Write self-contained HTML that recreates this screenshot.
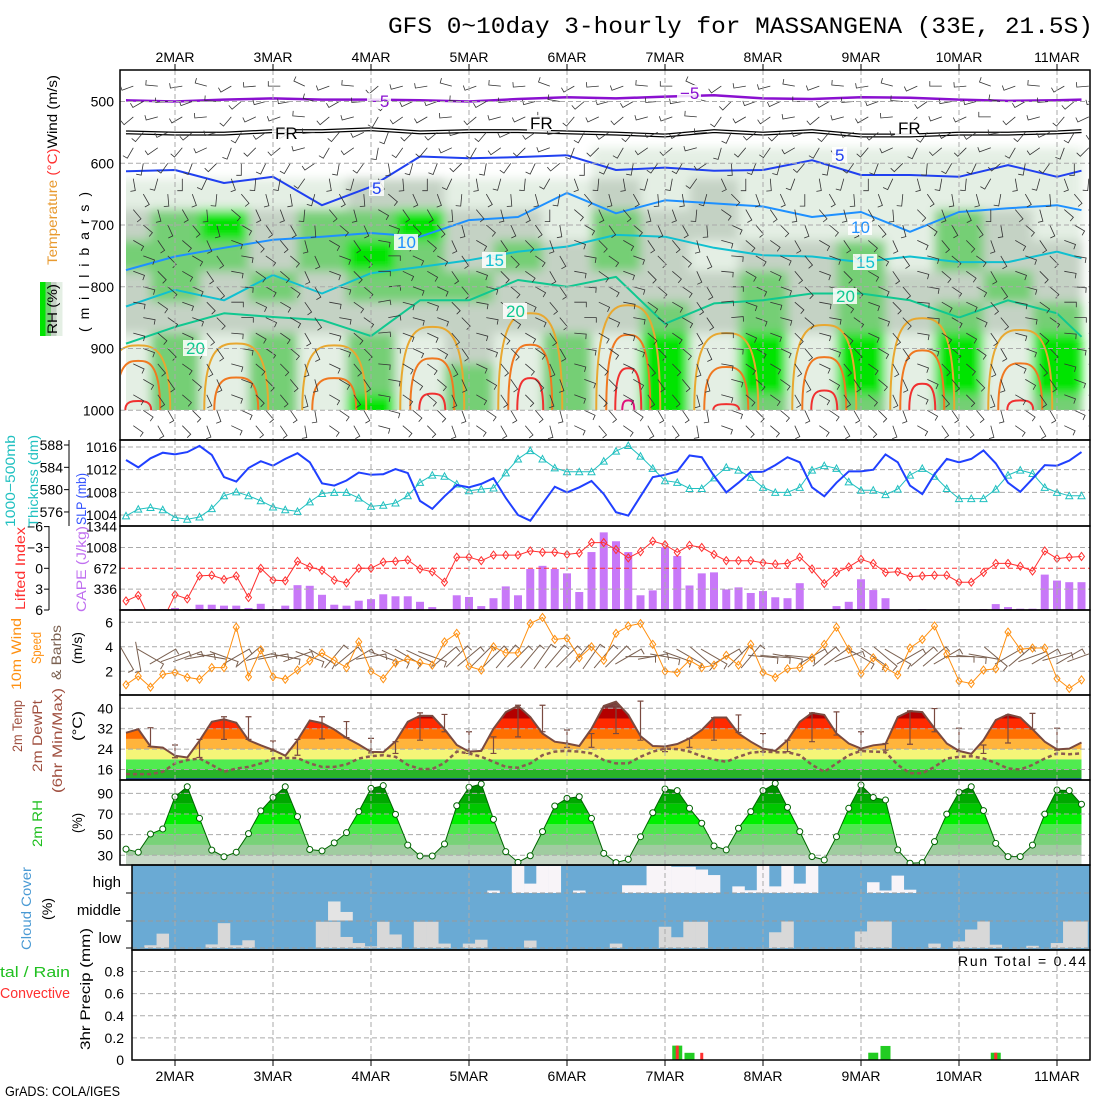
<!DOCTYPE html>
<html><head><meta charset="utf-8"><title>GFS meteogram MASSANGENA</title>
<style>
html,body{margin:0;padding:0;background:#fff;}
svg{display:block;font-family:"Liberation Sans",sans-serif;}
.t{font-size:14px;fill:#000;}
</style></head>
<body>
<svg id="chart" xmlns="http://www.w3.org/2000/svg" width="1100" height="1100" viewBox="0 0 1100 1100">
<rect x="0" y="0" width="1100" height="1100" fill="#fff"/>
<text x="388" y="33" font-family="Liberation Mono, monospace" font-size="23" textLength="705" lengthAdjust="spacingAndGlyphs">GFS 0~10day 3-hourly for MASSANGENA (33E, 21.5S)</text>
<g id="layer"></g>
<g class="t">
<text transform="translate(57,265) rotate(-90)" textLength="190" lengthAdjust="spacingAndGlyphs"><tspan fill="#e89a30">Temperature</tspan><tspan fill="#ff3030"> (°C)</tspan><tspan fill="#000">Wind (m/s)</tspan></text>
<text transform="translate(89,332) rotate(-90)" textLength="140" lengthAdjust="spacing">(millibars)</text>
<text transform="translate(15,527) rotate(-90)" fill="#20c0c0" textLength="92" lengthAdjust="spacingAndGlyphs">1000−500mb</text>
<text transform="translate(38,527) rotate(-90)" fill="#20c0c0" textLength="92" lengthAdjust="spacingAndGlyphs">Thicknss (dm)</text>
<text transform="translate(86,525) rotate(-90)" fill="#3050ff" textLength="52" lengthAdjust="spacingAndGlyphs">SLP (mb)</text>
<text transform="translate(25,610) rotate(-90)" fill="#ff3030" textLength="83" lengthAdjust="spacingAndGlyphs">Lifted Index</text>
<text transform="translate(86,612) rotate(-90)" fill="#c070f0" textLength="86" lengthAdjust="spacingAndGlyphs">CAPE (J/kg)</text>
<text transform="translate(21,690) rotate(-90)" fill="#ff9010" textLength="72" lengthAdjust="spacingAndGlyphs">10m Wind</text>
<text transform="translate(41,664) rotate(-90)" fill="#ff9010" textLength="32" lengthAdjust="spacingAndGlyphs">Speed</text>
<text transform="translate(61,680) rotate(-90)" fill="#7a6050" textLength="55" lengthAdjust="spacingAndGlyphs">&amp; Barbs</text>
<text transform="translate(82,664) rotate(-90)" textLength="32" lengthAdjust="spacingAndGlyphs">(m/s)</text>
<text transform="translate(22,752) rotate(-90)" fill="#a05040" textLength="52" lengthAdjust="spacingAndGlyphs">2m Temp</text>
<text transform="translate(42,772) rotate(-90)" fill="#a05040" textLength="72" lengthAdjust="spacingAndGlyphs">2m DewPt</text>
<text transform="translate(62,793) rotate(-90)" fill="#a05040" textLength="105" lengthAdjust="spacingAndGlyphs">(6hr Min/Max)</text>
<text transform="translate(82,741) rotate(-90)" textLength="30" lengthAdjust="spacingAndGlyphs">(°C)</text>
<text transform="translate(42,847) rotate(-90)" fill="#20c020" textLength="47" lengthAdjust="spacingAndGlyphs">2m RH</text>
<text transform="translate(82,833) rotate(-90)" textLength="20" lengthAdjust="spacingAndGlyphs">(%)</text>
<text transform="translate(31,950) rotate(-90)" fill="#4a9ad4" textLength="83" lengthAdjust="spacingAndGlyphs">Cloud Cover</text>
<text transform="translate(52,920) rotate(-90)" textLength="22" lengthAdjust="spacingAndGlyphs">(%)</text>
<text x="121" y="887" text-anchor="end" font-size="15">high</text>
<text x="121" y="915" text-anchor="end" font-size="15">middle</text>
<text x="121" y="943" text-anchor="end" font-size="15">low</text>
<text x="0" y="977" fill="#20c020" font-size="15" textLength="70" lengthAdjust="spacingAndGlyphs">tal / Rain</text>
<text x="0" y="998" fill="#ff3030" font-size="15" textLength="70" lengthAdjust="spacingAndGlyphs">Convective</text>
<text transform="translate(90,1050) rotate(-90)" textLength="122" lengthAdjust="spacingAndGlyphs">3hr Precip (mm)</text>
<text x="1086" y="966" text-anchor="end" textLength="128" lengthAdjust="spacing">Run Total = 0.44</text>
<text x="5" y="1096" textLength="115" lengthAdjust="spacingAndGlyphs">GrADS: COLA/IGES</text>
</g>
</svg>
<script>
const days = ['2MAR','3MAR','4MAR','5MAR','6MAR','7MAR','8MAR','9MAR','10MAR','11MAR'];
const slp = [1013.7,1012.4,1014,1015,1014.7,1015.1,1016.2,1014.6,1010.7,1009.9,1012.3,1013.5,1012.7,1013.9,1014.9,1013.3,1009.6,1009.2,1010.1,1011.5,1011.1,1011.2,1012.1,1011.4,1006.5,1005.1,1007.3,1009.3,1008.9,1009.5,1010.5,1007,1004,1003,1006,1009,1008,1008.9,1010,1007.7,1004.5,1003.9,1007.3,1010.7,1011.1,1011.7,1014.5,1014.2,1010.9,1008,1009.7,1011.6,1011.6,1012.8,1014.2,1013.3,1008.9,1007.3,1009.7,1011.7,1011.7,1012,1014.7,1013.3,1009.2,1007.7,1011.2,1013.9,1013.3,1013.9,1015.4,1013.1,1009.7,1008.1,1010.4,1012.8,1012.7,1013.6,1015.1];
const thick = [575.3,576.5,576.8,576.4,575,574.7,575.1,576.6,578.9,579.6,578.9,578,576.9,576.4,576.1,577.8,579.3,579.5,579.5,578.5,577,577.2,577.6,578.9,581.3,582.6,582.4,581,579.8,580.1,580.3,583,585.5,587,585.5,583.9,583.2,583.2,583.2,585.1,586.9,587.9,586,583.8,581.6,581.3,580.2,580.2,582.1,584,583.5,582.2,580.4,579.5,579.5,580.4,583.5,584.3,583.8,581.4,579.9,579.9,579.1,580.1,582.6,583.8,582.4,580.2,578.4,578.4,578.4,580.1,582.6,583.5,582.9,580.4,579.5,578.9,578.9];
const liftedIndex = [4.7,3.9,7.5,7.5,3.8,4.4,1.1,1.0,1.6,1.1,4.2,0,1.7,1.8,-1,-0.2,0.3,1.7,2.1,0,0,-0.9,-1,-1.2,0.1,0.5,2,-1.6,-1.6,-1.1,-1.9,-1.9,-1.9,-2.5,-2.3,-2.3,-2,-2.2,-3.7,-3.7,-2.7,-1.5,-2.4,-3.9,-3.4,-2.3,-3.3,-3,-2,-1.1,-1.1,-1.1,-0.8,-0.6,-0.7,-1.6,0.1,2.2,0.6,-0.2,-1.3,-0.7,0.6,0.5,1.2,1.1,1,1,2,2,0.6,-0.7,-0.7,-0.3,0.4,-2.5,-1.4,-1.6,-1.7];
const cape = [16,16,0,16,32,16,85,85,70,70,32,100,16,70,400,390,245,85,70,150,175,253,221,221,132,47,0,237,210,63,190,380,237,660,711,660,590,290,933,1250,1107,933,237,316,1012,870,395,590,606,332,364,274,305,205,190,432,0,0,63,132,495,321,190,0,0,16,0,0,0,0,16,95,47,21,21,570,474,448,448];
const windSpeed = [0.9,1.6,0.7,1.75,1.9,1.5,1.35,2.3,2.3,5.6,1.55,3.75,1.55,1.35,2.1,2.85,3.5,2.9,2.3,4.4,2.0,1.4,2.7,3.0,2.7,2.5,4.4,5.1,2.4,2.1,4,3.5,3.5,5.9,6.4,4.6,4.7,3.1,4,2.9,5.1,5.7,5.9,4.2,2.0,1.9,2.9,2.3,2.5,3.3,2.5,4.2,1.9,1.5,2.2,2.3,3.1,4.2,5.6,3.8,1.8,3.1,2.3,1.7,3.9,4.6,5.7,3.4,1.2,1.0,2.1,2.2,5.2,3.8,3.9,3.9,1.4,0.6,1.3];
const windDir = [150,170,120,60,70,70,80,100,110,60,50,75,80,100,70,110,120,40,50,60,80,110,115,120,115,110,50,45,50,45,45,40,45,40,35,40,45,40,35,40,45,60,90,80,100,110,120,130,120,60,45,40,95,95,100,95,60,50,55,70,120,125,130,120,60,50,50,60,90,95,100,130,60,50,70,60,75,60,70];
const temp2m = [30.4,31.8,25,24.6,21.4,20.7,27.3,34.7,35.7,34.3,27.5,25.5,23.7,21.4,27.5,35.2,34.2,31.7,28.4,25.8,22.9,22.8,27,34.7,37.1,37,31.8,25.6,23,23.3,32,38.5,40.9,36.6,30.1,26.9,26.2,25.2,32,40.9,42.6,37.4,29.1,25.2,25,26,28.2,31.5,36.4,36.4,30.1,26.9,24.2,23.3,27.5,34.7,38.2,37.4,30.1,26.2,24.2,25.5,26,36.6,38.9,38.5,32.2,26.2,23.3,22.1,27.5,35.4,37.6,36.4,31.8,26.9,23.9,24.2,26.6];
const dew2m = [14.2,14.2,14.2,15.1,18.4,19.7,20.3,17.8,15.1,16.4,17,18.4,20.3,20.5,20.5,18.4,17,17,18,20.3,21.2,21.6,21,17.8,16.2,16.2,18.6,23,22.3,21,19,17,16.7,18.4,21.6,23,23.3,23,22.3,19.7,18.4,18.4,21,23,24.2,24,23,21.2,19.9,19,21,22.6,23,22.8,22.8,21.6,17.8,15.1,18.4,21.6,23.3,23,22.8,17.8,14.5,14.5,17,20.3,21,21.2,20.3,18.6,16.4,16,17.8,20.3,22.3,22,22.3];
const tMax6 = [32.4,25.6,27.8,36.7,36.7,27.2,27.8,36.7,34.8,28.2,26.9,38.2,37.6,30.8,28.8,41.2,41.2,31.5,30.1,41.2,42.8,25,28.2,36.3,37.4,30.1,27.5,38.2,38.6,30.8,26.2,39,39.9,32.2,25.6,37.4,38,32.2];
const tMin6 = [25,20.6,20.7,27.8,27.8,23.2,21.6,28,28.5,22.5,22.3,27.5,30.8,22.3,22.3,28.8,30.8,24.7,24.7,30.1,27.5,23,24.7,27.5,30.5,23,23,26.9,29.5,23.6,23.6,25.9,30.8,23,22.3,26.4,31.8,23.6];
const rh2m = [36,33,50.6,55.5,86.7,96.4,65.8,35,28.6,33,51,73,86,96.4,67.4,35.6,34.3,42,51.9,72.3,94.8,97.4,69.6,39.9,29.3,29.3,40.9,78,95.8,99,64.8,33.5,23.2,29.6,52.9,77.7,85.1,86.7,65.7,31.9,22.9,26.1,48,71.2,94.2,92.6,75.5,61,39,35.2,56.2,72.3,92.6,99.6,76.4,52.9,28.7,25.5,48,75.5,98,86,83.5,35.2,22.3,22.9,43.2,69.9,91,96.4,73.3,41.6,28.7,28.7,39.9,69.9,93.2,92.6,79.4];
const cloudLow = [0,0,10,52,0,0,0,13,90,10,28,0,0,0,0,0,95,95,40,18,6,95,49,0,95,95,16,0,16,30,0,0,0,27,0,0,0,0,0,0,16,0,0,0,77,39,95,95,0,0,0,0,0,57,96,0,0,0,0,0,60,96,96,0,0,0,16,0,24,67,96,12,0,0,8,0,18,96,96];
const cloudMid = [0,0,0,0,0,0,0,0,0,0,0,0,0,0,0,0,0,69,31,0,0,0,0,0,0,0,0,0,0,0,0,0,0,0,0,0,0,0,0,0,0,0,0,0,0,0,0,0,0,0,0,0,0,0,0,0,0,0,0,0,0,0,0,0,0,0,0,0,0,0,0,0,0,0,0,0,0,0,0];
const cloudHigh = [0,0,0,0,0,0,0,0,0,0,0,0,0,0,0,0,0,0,0,0,0,0,0,0,0,0,0,0,0,0,9,0,98,34,98,98,0,9,0,0,0,28,28,98,98,95,95,85,65,0,24,10,98,24,98,34,98,0,0,0,0,39,9,63,12,0,0,0,0,0,0,0,0,0,0,0,0,0,0];
const precipTotal = {45:0.13,46:0.065,61:0.066,62:0.127,71:0.066};
const precipConv = {45:0.13,47:0.065,71:0.066};
const ctTimes = [0,4,8,12,16,20,24,28,32,36,40,44,48,52,56,60,64,68,72,76,78];
const isoMinus5 = [498,500,497,495,497,497,498,500,496,493,495,492,490,495,496,493,494,497,499,498,497];
const isoFreeze = [550,552,552,548,548,545,550,548,548,550,552,555,548,552,548,555,555,552,552,550,548];
const iso5 = [613,611,632,622,668,638,589,592,590,587,611,607,612,611,595,619,619,622,603,622,612];
const iso10 = [773,751,737,724,719,713,719,692,687,648,681,660,665,670,687,679,711,679,673,668,676];
const iso15 = [832,805,822,781,811,778,768,757,743,735,716,719,737,749,751,760,751,760,760,743,754];
const iso20 = [892,865,843,849,854,880,822,822,789,800,784,860,827,822,811,811,822,850,822,843,881];
const warm25 = [895,892,895,865,843,830,875,862,851,870];
const warm30 = [920,947,948,916,894,878,930,914,903,924];
const warm35 = [985,null,null,973,948,932,990,968,957,984];
const warm40 = [null,null,null,null,null,984,null,null,null,null];
const rhLevels = [550,600,650,700,750,800,850,900,950,1000];
const rhGrid = [
[0,0,1,2,3,2,2,1,1,1],[0,0,1,3,3,3,2,3,3,3],[0,0,1,4,3,2,2,1,1,1],[0,0,1,2,2,3,2,3,3,3],
[0,0,1,3,3,2,2,1,1,1],[0,0,2,3,4,3,2,3,3,4],[0,0,2,4,3,3,2,1,1,1],[0,0,1,2,2,3,2,2,3,3],
[0,0,1,2,3,2,2,1,1,1],[0,0,1,1,2,2,2,3,3,3],[0,1,2,3,3,2,2,1,1,1],[0,1,1,2,2,2,3,4,4,4],
[0,1,2,2,1,2,2,1,1,1],[0,1,1,1,2,3,3,4,4,3],[0,1,1,1,2,2,2,1,1,1],[0,1,1,1,3,3,3,4,4,3],
[0,1,1,1,1,2,2,1,1,1],[0,1,1,3,3,2,3,4,4,3],[0,1,1,2,2,3,2,1,1,1],[0,1,1,1,2,2,3,4,4,3]];
const barbLevels = [475,500,525,550,575,600,625,650,675,700,725,750,775,800,825,850,875,900,925,950,975,1000,1025];
const barbLevelDir = [260,250,240,230,220,200,180,160,150,140,130,120,120,115,110,110,115,120,125,130,130,135,135];
const barbColShift = [0,10,-10,20,0,-20,10,0,15,-10,0,20,-15,5,0,10,-5,15,0,-10,5];

const NS = 'http://www.w3.org/2000/svg';
const layer = document.getElementById('layer');
const X = i => 126 + 12.25 * i;
const yP = p => 101.5 + (p - 500) * 0.6175;
const ySLP = v => 447 + (1016 - v) * 5.67;
const yTh = v => 445 + (588 - v) * 5.58;
const yLI = v => 568.3 + v * 6.95;
const yCAPE = v => 610 - v * 0.0621;
const yW = v => 671.3 - (v - 2) * 12.25;
const yT = v => 708.3 + (40 - v) * 2.55;
const yRH = v => 855.3 - (v - 30) * 1.033;
const yPr = v => 1060 - v * 110.6;

function mk(tag, attrs, name, parent) {
  const el = document.createElementNS(NS, tag);
  for (const k in attrs) el.setAttribute(k, attrs[k]);
  
  
  (parent || layer).appendChild(el);
  return el;
}
function txt(x, y, s, name, extra, parent) {
  const a = Object.assign({x: x, y: y, 'font-size': 14}, extra || {});
  const t = mk('text', a, name, parent);
  t.textContent = s;
  return t;
}
const defs = mk('defs', {}, 'defs');
const blur = mk('filter', {id: 'blur', x: '-10%', y: '-10%', width: '120%', height: '120%'}, 'blur-filter', defs);
mk('feGaussianBlur', {stdDeviation: '5'}, 'blur', blur);
function clip(id, shape, attrs) {
  const c = mk('clipPath', {id: id}, id, defs);
  mk(shape, attrs, id + '-shape', c);
}
clip('c1', 'rect', {x: 121, y: 71, width: 968, height: 368});
clip('c1rh', 'rect', {x: 126, y: 71, width: 963, height: 339});
const pts = (arr, fy, times) => arr.map((v, k) => (times ? X(times[k]) : X(k)).toFixed(1) + ',' + fy(v).toFixed(1)).join(' ');

const g1 = mk('g', {'clip-path': 'url(#c1)'}, 'upper-air-panel');
const g1rhOuter = mk('g', {'clip-path': 'url(#c1rh)'}, 'rh-shading', g1);
const g1rh = mk('g', {filter: 'url(#blur)'}, 'rh-shading-blur', g1rhOuter);
const rhCol = ['#ffffff', '#e4efe4', '#c4d2c4', '#74cf74', '#00e400'];
rhGrid.forEach((col, k) => {
  col.forEach((c, r) => {
    if (c === 0) return;
    const p = rhLevels[r];
    mk('rect', {x: X(4 * k) - 24.5, y: yP(p - 25), width: 49.5, height: yP(p + 25) - yP(p - 25) + 0.5, fill: rhCol[c]}, 'rh-cell', g1rh);
  });
});
function isoLine(arr, color, w, name) {
  mk('polyline', {points: pts(arr, yP, ctTimes), fill: 'none', stroke: color, 'stroke-width': w, 'stroke-linejoin': 'round'}, name, g1);
}
isoLine(isoMinus5, '#8a10d0', 2.5, 'isotherm-minus5');
isoLine(isoFreeze, '#000', 4, 'freezing-level');
isoLine(isoFreeze, '#fff', 1.5, 'freezing-level-inner');
isoLine(iso5, '#2040f0', 2, 'isotherm-5');
isoLine(iso10, '#1e90ff', 2, 'isotherm-10');
isoLine(iso15, '#10c0d0', 2, 'isotherm-15');
isoLine(iso20, '#10c890', 2, 'isotherm-20');
function bubble(arr, hw, color, name) {
  arr.forEach((p, d) => {
    if (p === null) return;
    const xc = X(8 * d + 1), yt = yP(p), yb = yP(1000);
    mk('path', {d: `M${xc - hw},${yb} C${xc - hw},${yt} ${xc - hw * 0.4},${yt} ${xc},${yt} C${xc + hw * 0.4},${yt} ${xc + hw},${yt} ${xc + hw},${yb}`, fill: 'none', stroke: color, 'stroke-width': 2}, name, g1);
  });
}
bubble(warm25, 32, '#e8a830', 'isotherm-25');
bubble(warm30, 22, '#f07820', 'isotherm-30');
bubble(warm35, 13, '#f03030', 'isotherm-35');
bubble(warm40, 6, '#e0107a', 'isotherm-40');
for (let k = 0; k < 40; k++) {
  const i = 2 * k + 1;
  const sh = barbColShift[Math.min(20, Math.floor(k / 2))];
  barbLevels.forEach((p, r) => {
    const dir = (barbLevelDir[r] + sh + (k % 2 ? 15 : -10)) * Math.PI / 180;
    const x0 = X(i) + ((r % 2) ? 5 : -5), y0 = yP(p);
    const x1 = x0 + Math.sin(dir) * 12, y1 = y0 - Math.cos(dir) * 12;
    const bx = x1 + Math.cos(dir) * 5, by = y1 + Math.sin(dir) * 5;
    mk('path', {d: `M${x0.toFixed(1)},${y0.toFixed(1)} L${x1.toFixed(1)},${y1.toFixed(1)} L${bx.toFixed(1)},${by.toFixed(1)}`, fill: 'none', stroke: '#333', 'stroke-width': 0.8}, 'wind-barb', g1);
  });
}
const lbl = [['−5', 370, 107, '#8a10d0'], ['−5', 680, 99, '#8a10d0'], ['FR', 275, 139, '#000'], ['FR', 530, 129, '#000'], ['FR', 898, 134, '#000'],
  ['5', 372, 194, '#2040f0'], ['5', 835, 161, '#2040f0'], ['10', 397, 248, '#1e90ff'], ['10', 851, 233, '#1e90ff'],
  ['15', 485, 266, '#10c0d0'], ['15', 856, 268, '#10c0d0'], ['20', 506, 317, '#10c890'], ['20', 836, 302, '#10c890'], ['20', 186, 354, '#10c890']];
lbl.forEach(l => {
  mk('rect', {x: l[1] - 3, y: l[2] - 14, width: l[0].length * 9 + 6, height: 16, fill: '#fff', opacity: 0.85}, 'contour-label-bg', g1);
  txt(l[1], l[2], l[0], 'contour-label', {fill: l[3], 'font-size': 17}, g1);
});

const panels = [[120, 70, 440], [120, 440, 526], [120, 526, 610], [120, 610, 695], [120, 695, 780], [120, 780, 865], [132, 865, 950], [132, 950, 1060]];
function hgrid(y, x0, color) {
  mk('line', {x1: x0 || 120, x2: 1090, y1: y, y2: y, stroke: color || '#aaa', 'stroke-dasharray': '5,3', 'stroke-width': 1}, 'grid-line-h');
}
[500, 600, 700, 800, 900, 1000].forEach(p => { hgrid(yP(p)); txt(114, yP(p) + 5, String(p), 'pressure-tick', {'text-anchor': 'end'}); });

[1016, 1012, 1008, 1004].forEach(v => { hgrid(ySLP(v)); txt(117, ySLP(v) + 5, String(v), 'slp-tick', {'text-anchor': 'end'}); });
[588, 584, 580, 576].forEach(v => {
  txt(63, yTh(v) + 5, String(v), 'thickness-tick', {'text-anchor': 'end'});
  mk('line', {x1: 64, x2: 69, y1: yTh(v), y2: yTh(v), stroke: '#000'}, 'thickness-tick-mark');
});
mk('line', {x1: 69, x2: 69, y1: 440, y2: 526, stroke: '#000'}, 'thickness-axis');
mk('polyline', {points: pts(thick, yTh), fill: 'none', stroke: '#20c0c0', 'stroke-width': 1}, 'thickness-line');
thick.forEach((v, i) => {
  const x = X(i), y = yTh(v);
  mk('path', {d: `M${x - 3.5},${y + 3} L${x + 3.5},${y + 3} L${x},${y - 3.5} Z`, fill: 'none', stroke: '#20c0c0', 'stroke-width': 1}, 'thickness-marker');
});
mk('polyline', {points: pts(slp, ySLP), fill: 'none', stroke: '#2040ff', 'stroke-width': 2}, 'slp-line');

cape.forEach((v, i) => {
  if (v <= 0) return;
  mk('rect', {x: X(i) - 4, y: yCAPE(v), width: 8, height: 610 - yCAPE(v), fill: '#c878f8'}, 'cape-bar');
});
[-3, 3].forEach(v => hgrid(yLI(v)));
hgrid(yLI(0), 120, '#ff3030');
[1344, 1008, 672, 336].forEach(v => txt(117, yCAPE(v) + 5, String(v), 'cape-tick', {'text-anchor': 'end'}));
[-6, -3, 0, 3, 6].forEach(v => {
  txt(43, yLI(v) + 5, String(v).replace('-', '−'), 'li-tick', {'text-anchor': 'end'});
  mk('line', {x1: 44, x2: 49, y1: yLI(v), y2: yLI(v), stroke: '#000'}, 'li-tick-mark');
});
mk('line', {x1: 49, x2: 49, y1: 526, y2: 610, stroke: '#000'}, 'li-axis');
clip('c3', 'rect', {x: 121, y: 527, width: 968, height: 83});
const g3 = mk('g', {'clip-path': 'url(#c3)'}, 'li-group');
mk('polyline', {points: pts(liftedIndex, yLI), fill: 'none', stroke: '#ff3030', 'stroke-width': 1}, 'li-line', g3);
liftedIndex.forEach((v, i) => {
  const x = X(i), y = yLI(v);
  mk('path', {d: `M${x - 3},${y} L${x},${y - 4} L${x + 3},${y} L${x},${y + 4} Z`, fill: 'none', stroke: '#ff3030'}, 'li-marker', g3);
});

[2, 4, 6].forEach(v => { hgrid(yW(v)); txt(113, yW(v) + 5, String(v), 'wind-tick', {'text-anchor': 'end'}); });
clip('c4', 'rect', {x: 121, y: 611, width: 968, height: 83});
const g4 = mk('g', {'clip-path': 'url(#c4)'}, 'wind-group');
windDir.forEach((d, i) => {
  const a = d * Math.PI / 180, x0 = X(i), y0 = yW(3.2);
  const dx = Math.sin(a) * 15, dy = -Math.cos(a) * 15;
  const x1 = x0 + dx, y1 = y0 + dy;
  mk('path', {d: `M${(x0 - dx).toFixed(1)},${(y0 - dy).toFixed(1)} L${x1.toFixed(1)},${y1.toFixed(1)} L${(x1 + Math.cos(a) * 6).toFixed(1)},${(y1 + Math.sin(a) * 6).toFixed(1)}`, fill: 'none', stroke: '#7a6050', 'stroke-width': 1}, 'wind-barb-10m', g4);
});
mk('polyline', {points: pts(windSpeed, yW), fill: 'none', stroke: '#ff9010', 'stroke-width': 1}, 'wind-speed-line', g4);
windSpeed.forEach((v, i) => {
  const x = X(i), y = yW(v);
  mk('path', {d: `M${x - 3},${y} L${x},${y - 4} L${x + 3},${y} L${x},${y + 4} Z`, fill: 'none', stroke: '#ff9010'}, 'wind-speed-marker', g4);
});

const tArea = 'M' + X(0) + ',780 L' + pts(temp2m, yT).split(' ').join(' L') + ' L' + X(temp2m.length - 1) + ',780 Z';
clip('c5', 'path', {d: tArea});
const g5 = mk('g', {'clip-path': 'url(#c5)'}, 'temp-fill');
const tBands = [[-10, 16, '#28b428'], [16, 20, '#50eb50'], [20, 24, '#f5f578'], [24, 28, '#ffb43c'], [28, 32, '#ff6e00'], [32, 36, '#ff2a00'], [36, 40, '#b40000'], [40, 60, '#7a3a3a']];
tBands.forEach(b => mk('rect', {x: 120, y: yT(b[1]), width: 970, height: yT(b[0]) - yT(b[1]), fill: b[2]}, 'temp-band', g5));
[16, 24, 32, 40].forEach(v => { hgrid(yT(v)); txt(113, yT(v) + 5, String(v), 'temp-tick', {'text-anchor': 'end'}); });
mk('line', {x1: X(0), x2: X(78), y1: 779, y2: 779, stroke: '#2040a0', 'stroke-width': 1.5}, 'temp-baseline');
tMax6.forEach((hi, k) => {
  const i = 2 + 2 * k, x = X(i);
  mk('path', {d: `M${x},${yT(hi)} L${x},${yT(tMin6[k])} M${x - 3},${yT(hi)} L${x + 3},${yT(hi)} M${x - 3},${yT(tMin6[k])} L${x + 3},${yT(tMin6[k])}`, stroke: '#7a4a40', 'stroke-width': 1.2, fill: 'none'}, 'minmax-whisker');
});
mk('polyline', {points: pts(dew2m, yT), fill: 'none', stroke: '#8a5a50', 'stroke-width': 2.5, 'stroke-dasharray': '4,3'}, 'dewpoint-line');
mk('polyline', {points: pts(temp2m, yT), fill: 'none', stroke: '#7a4a40', 'stroke-width': 2}, 'temp-line');

const rArea = 'M' + X(0) + ',865 L' + pts(rh2m, yRH).split(' ').join(' L') + ' L' + X(rh2m.length - 1) + ',865 Z';
clip('c6', 'path', {d: rArea});
const g6 = mk('g', {'clip-path': 'url(#c6)'}, 'rh-fill');
const rBands = [[0, 30, '#c8d8c8'], [30, 40, '#a0cca0'], [40, 50, '#78d278'], [50, 60, '#50e650'], [60, 70, '#00f000'], [70, 80, '#00c800'], [80, 90, '#00a800'], [90, 110, '#008c00']];
rBands.forEach(b => mk('rect', {x: 120, y: yRH(b[1]), width: 970, height: yRH(b[0]) - yRH(b[1]), fill: b[2]}, 'rh-band', g6));
[30, 50, 70, 90].forEach(v => { hgrid(yRH(v)); txt(113, yRH(v) + 5, String(v), 'rh-tick', {'text-anchor': 'end'}); });
mk('polyline', {points: pts(rh2m, yRH), fill: 'none', stroke: '#006400', 'stroke-width': 1}, 'rh-line');
rh2m.forEach((v, i) => mk('circle', {cx: X(i), cy: yRH(v), r: 3, fill: '#fff', stroke: '#006400'}, 'rh-marker'));

clip('c7', 'rect', {x: 132, y: 865, width: 958, height: 85});
const g7 = mk('g', {'clip-path': 'url(#c7)'}, 'cloud-group');
mk('rect', {x: 132, y: 865, width: 958, height: 85, fill: '#6aaad4'}, 'cloud-bg', g7);
function cloudBars(arr, base, color, name) {
  arr.forEach((v, i) => {
    if (v <= 0) return;
    const h = v / 100 * 27.6;
    mk('rect', {x: X(i) - 6.2, y: base - h, width: 12.5, height: h, fill: color}, name, g7);
  });
}
cloudBars(cloudLow, 948, '#d8d8d8', 'low-cloud-bar');
cloudBars(cloudMid, 920.5, '#e4e4e4', 'mid-cloud-bar');
cloudBars(cloudHigh, 893, '#f8f4f8', 'high-cloud-bar');
[893, 921, 948].forEach(y => hgrid(y, 132, '#999'));
[893, 921, 948].forEach(y => mk('line', {x1: 126, x2: 132, y1: y, y2: y, stroke: '#000'}, 'cloud-tick'));

[0.2, 0.4, 0.6, 0.8].forEach(v => hgrid(yPr(v), 132));
[0, 0.2, 0.4, 0.6, 0.8].forEach(v => txt(124, yPr(v) + 5, String(v), 'precip-tick', {'text-anchor': 'end'}));
for (const k in precipTotal) {
  const i = +k, v = precipTotal[k];
  mk('rect', {x: X(i) - 5, y: yPr(v), width: 10, height: 1060 - yPr(v), fill: '#22cc22'}, 'precip-total-bar');
}
for (const k in precipConv) {
  const i = +k, v = precipConv[k];
  mk('rect', {x: X(i) - 1.5, y: yPr(v), width: 3, height: 1060 - yPr(v), fill: '#ff3030'}, 'precip-conv-bar');
}

days.forEach((d, k) => {
  const x = X(4 + 8 * k);
  panels.forEach(p => mk('line', {x1: x, x2: x, y1: p[1], y2: p[2], stroke: '#aaa', 'stroke-dasharray': '5,3'}, 'grid-line-v'));
  txt(x, 62, d, 'top-date-label', {'text-anchor': 'middle', 'font-size': 14});
  txt(x, 1081, d, 'bottom-date-label', {'text-anchor': 'middle', 'font-size': 14});
  mk('line', {x1: x, x2: x, y1: 1060, y2: 1066, stroke: '#000'}, 'date-tick');
  mk('line', {x1: x, x2: x, y1: 64, y2: 70, stroke: '#000'}, 'date-tick');
});
panels.forEach(p => mk('rect', {x: p[0], y: p[1], width: 1090 - p[0], height: p[2] - p[1], fill: 'none', stroke: '#000', 'stroke-width': 1.5}, 'panel-frame'));
const cb = [['#00e400', 0], ['#74cf74', 1], ['#c4d2c4', 2], ['#e4efe4', 3]];
cb.forEach(c => mk('rect', {x: 40 + c[1] * 5.5, y: 282, width: 6, height: 54, fill: c[0]}, 'rh-colorbar'));
txt(0, 0, 'RH (%)', 'rh-colorbar-label', {transform: 'translate(57,334) rotate(-90)', textLength: 50, lengthAdjust: 'spacingAndGlyphs'});
</script>
</body></html>
